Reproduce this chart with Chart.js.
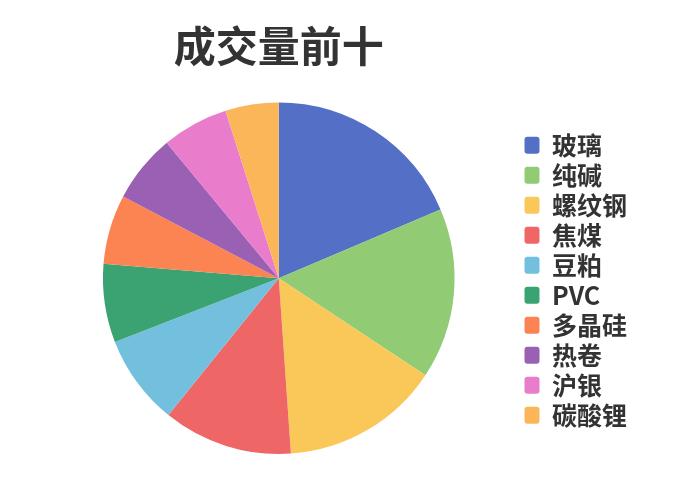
<!DOCTYPE html>
<html>
<head>
<meta charset="utf-8">
<script src="https://cdn.jsdelivr.net/npm/chart.js@4"></script>
<style>
  html, body { margin: 0; padding: 0; background: #fff; }
  #wrap { width: 700px; height: 500px; }
</style>
</head>
<body>
<div id="wrap"><canvas id="pie-chart"></canvas></div>
<script>
const categories = ['玻璃', '纯碱', '螺纹钢', '焦煤', '豆粕', 'PVC', '多晶硅', '热卷', '沪银', '碳酸锂'];
const volumes = [18.6, 15.7, 14.6, 11.9, 8.3, 7.2, 6.4, 6.3, 6.1, 4.9];
const sliceColors = ['#5470c6', '#91cc75', '#fac858', '#ee6666', '#73c0de',
                     '#3ba272', '#fc8452', '#9a60b4', '#ea7ccc', '#fcb65a'];

const fontFamily = '"Noto Sans CJK SC", "Noto Sans", sans-serif';

const pieCtx = document.getElementById('pie-chart').getContext('2d');

new Chart(pieCtx, {
    type: 'pie',
    data: {
        labels: categories,
        datasets: [{
            label: '成交量',
            data: volumes,
            backgroundColor: sliceColors,
            borderWidth: 0
        }]
    },
    options: {
        responsive: true,
        maintainAspectRatio: false,
        animation: false,
        layout: {
            padding: { left: 38, right: 63, top: 0, bottom: 46 }
        },
        plugins: {
            title: {
                display: true,
                text: '成交量前十',
                fullSize: false,
                color: '#333',
                font: { family: fontFamily, size: 42, weight: 'bold' },
                padding: { top: 21, bottom: 31 }
            },
            legend: {
                position: 'right',
                fullSize: false,
                align: 'center',
                // empty title only nudges the items down a little
                title: {
                    display: true,
                    text: '',
                    font: { size: 1 },
                    padding: { top: 2, bottom: 1 }
                },
                labels: {
                    color: '#333',
                    font: { family: fontFamily, size: 25, weight: 'bold' },
                    boxWidth: 15,
                    boxHeight: 17,
                    useBorderRadius: true,
                    borderRadius: 3,
                    padding: 5
                }
            },
            tooltip: { enabled: false }
        }
    }
});
</script>
</body>
</html>
